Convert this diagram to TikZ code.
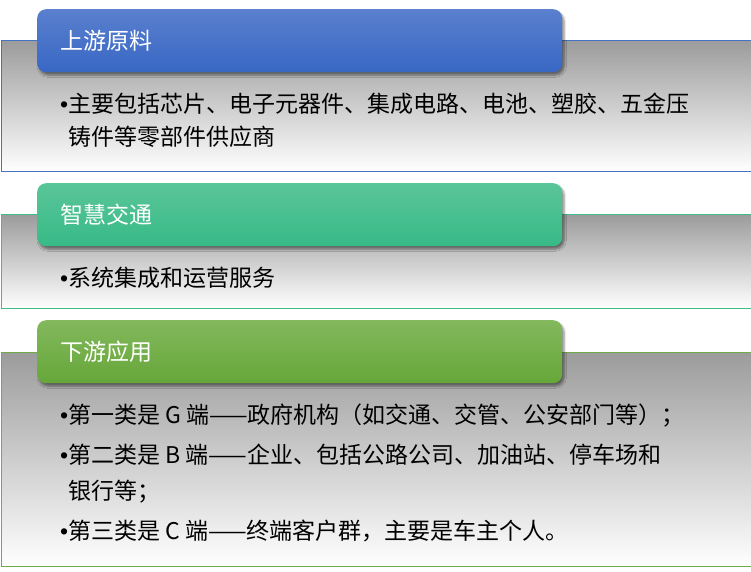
\documentclass[tikz,border=0pt]{standalone}
\usepackage{fontspec}
\setmainfont{Noto Sans CJK SC}
\newfontfamily\bulletfont{Liberation Sans}
\usepackage{xcolor}
\usetikzlibrary{shadows.blur}

\definecolor{blueline}{HTML}{4472C4}
\definecolor{blueup}{HTML}{5A80CE}
\definecolor{bluedown}{HTML}{3867C4}
\definecolor{tealline}{HTML}{3EBC8A}
\definecolor{tealup}{HTML}{5AC598}
\definecolor{tealdown}{HTML}{37BA87}
\definecolor{greenline}{HTML}{70AD47}
\definecolor{greenup}{HTML}{83B85D}
\definecolor{greendown}{HTML}{66A739}

\newcommand{\bul}{{\bulletfont •}}
\newcommand{\nobul}{\phantom{\bulletfont •}}

\begin{document}
\begin{tikzpicture}[x=1pt,y=-1pt]
        % Define styles
        \tikzset{
            box/.style={rectangle, draw, line width=1pt, top color=gray!78, bottom color=white, minimum width=750pt, anchor=north west, inner sep=0pt},
            tab/.style={rectangle, rounded corners=9pt, minimum width=525pt, minimum height=63pt, text width=479pt, inner xsep=23pt, align=left, anchor=north west, text=white, font=\fontsize{23pt}{28pt}\selectfont, blur shadow={shadow xshift=2pt, shadow yshift=-3pt, shadow blur steps=6, shadow opacity=45}},
            body/.style={anchor=west, align=left, inner sep=0pt, text=black, font=\fontsize{23pt}{33pt}\selectfont}
        }
        \useasboundingbox (0,0) rectangle (751,571);

        % Boxes
        \node[box, draw=blueline, minimum height=131pt] (box_node_1) at (0.5,40) {};
        \node[box, draw=tealline, minimum height=94pt] (box_node_2) at (0.5,214) {};
        \node[box, draw=greenline, minimum height=214pt] (box_node_3) at (0.5,352) {};

        % Tabs
        \node[tab, top color=blueup, bottom color=bluedown] (tab_node_1) at (37,9) {上游原料};
        \node[tab, top color=tealup, bottom color=tealdown] (tab_node_2) at (37,183) {智慧交通};
        \node[tab, top color=greenup, bottom color=greendown] (tab_node_3) at (37,320) {下游应用};

        % Texts
        \node[body] (text_node_1) at (60,120.5) {\bul 主要包括芯片、电子元器件、集成电路、电池、塑胶、五金压\\\nobul 铸件等零部件供应商};
        \node[body] (text_node_2) at (60,278) {\bul 系统集成和运营服务};
        \node[body] (text_node_3) at (60,415) {\bul 第一类是 G 端——政府机构（如交通、交管、公安部门等）；};
        \node[body, font=\fontsize{23pt}{36pt}\selectfont] (text_node_4) at (60,474) {\bul 第二类是 B 端——企业、包括公路公司、加油站、停车场和\\\nobul 银行等；};
        \node[body] (text_node_5) at (60,531) {\bul 第三类是 C 端——终端客户群，主要是车主个人。};
    \end{tikzpicture}
\end{document}
